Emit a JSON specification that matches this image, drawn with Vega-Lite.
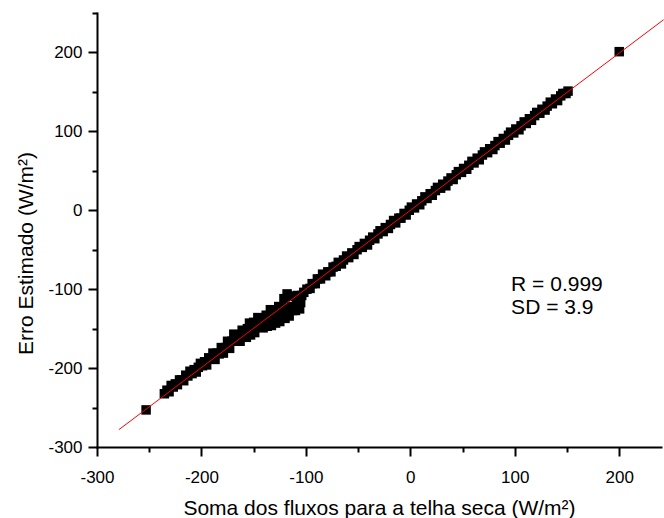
{
  "$schema": "https://vega.github.io/schema/vega-lite/v6.json",
  "width": 564,
  "height": 434,
  "autosize": {"type": "none"},
  "padding": {"left": 97, "top": 13, "right": 3, "bottom": 71},
  "background": "white",
  "config": {
    "view": {"stroke": null},
    "font": "Liberation Sans",
    "axis": {"grid": false, "labelFont": "Liberation Sans", "titleFont": "Liberation Sans"}
  },
  "datasets": {
    "pts": [
      {"x": -253, "y": -253}, {"x": 200, "y": 201},
      {"x": -235.5, "y": -232.5}, {"x": -233, "y": -228}, {"x": -231, "y": -230}, {"x": -229, "y": -222}, {"x": -227, "y": -224}, {"x": -225, "y": -220}, {"x": -223, "y": -221}, {"x": -221, "y": -215}, {"x": -219, "y": -215}, {"x": -217, "y": -216}, {"x": -215, "y": -209}, {"x": -213, "y": -210}, {"x": -211, "y": -204}, {"x": -209, "y": -207}, {"x": -207, "y": -202}, {"x": -205, "y": -205}, {"x": -203, "y": -199}, {"x": -201, "y": -194}, {"x": -199, "y": -197}, {"x": -197, "y": -192}, {"x": -195, "y": -196}, {"x": -193, "y": -187}, {"x": -191, "y": -188}, {"x": -189, "y": -181}, {"x": -187, "y": -189}, {"x": -185, "y": -181}, {"x": -183, "y": -182}, {"x": -181, "y": -174}, {"x": -179, "y": -181}, {"x": -177, "y": -174}, {"x": -175, "y": -166}, {"x": -173, "y": -175}, {"x": -171, "y": -166}, {"x": -169, "y": -157}, {"x": -167, "y": -166}, {"x": -165, "y": -158}, {"x": -163, "y": -166}, {"x": -161, "y": -152}, {"x": -159, "y": -157},
      {"x": -157, "y": -161}, {"x": -156, "y": -150}, {"x": -154, "y": -143}, {"x": -153, "y": -158}, {"x": -152, "y": -150}, {"x": -150, "y": -142}, {"x": -149, "y": -155}, {"x": -147, "y": -144}, {"x": -146, "y": -136}, {"x": -144, "y": -148}, {"x": -143, "y": -137}, {"x": -141, "y": -149}, {"x": -140, "y": -139},
      {"x": -138, "y": -133}, {"x": -137, "y": -147}, {"x": -136, "y": -139}, {"x": -134, "y": -126}, {"x": -133, "y": -146}, {"x": -132, "y": -138}, {"x": -130, "y": -128}, {"x": -129, "y": -143}, {"x": -128, "y": -136}, {"x": -126, "y": -122}, {"x": -125, "y": -141}, {"x": -124, "y": -134}, {"x": -122, "y": -124}, {"x": -121, "y": -112}, {"x": -120, "y": -137}, {"x": -119, "y": -131}, {"x": -118, "y": -106}, {"x": -117, "y": -122}, {"x": -116, "y": -134}, {"x": -115, "y": -109}, {"x": -113, "y": -127}, {"x": -112, "y": -109}, {"x": -110, "y": -127}, {"x": -109, "y": -117}, {"x": -108, "y": -108}, {"x": -106, "y": -125}, {"x": -105, "y": -117}, {"x": -104, "y": -108}, {"x": -102, "y": -104},
      {"x": -99, "y": -100}, {"x": -96, "y": -99}, {"x": -94, "y": -93}, {"x": -91, "y": -93}, {"x": -89, "y": -87}, {"x": -86, "y": -87}, {"x": -84, "y": -81}, {"x": -81, "y": -83}, {"x": -79, "y": -78}, {"x": -76, "y": -78}, {"x": -74, "y": -72}, {"x": -71, "y": -71}, {"x": -69, "y": -66}, {"x": -66, "y": -68}, {"x": -64, "y": -63}, {"x": -61, "y": -58}, {"x": -59, "y": -60}, {"x": -56, "y": -54}, {"x": -54, "y": -56}, {"x": -51, "y": -50}, {"x": -49, "y": -46}, {"x": -46, "y": -47}, {"x": -44, "y": -42}, {"x": -41, "y": -44}, {"x": -39, "y": -38}, {"x": -36, "y": -34}, {"x": -34, "y": -36}, {"x": -31, "y": -30}, {"x": -29, "y": -26}, {"x": -26, "y": -27}, {"x": -24, "y": -22}, {"x": -21, "y": -23}, {"x": -19, "y": -18}, {"x": -16, "y": -13}, {"x": -14, "y": -16}, {"x": -11, "y": -10}, {"x": -9, "y": -10}, {"x": -6, "y": -4}, {"x": -4, "y": -6}, {"x": -1, "y": 0}, {"x": 1, "y": 4}, {"x": 4, "y": 3}, {"x": 6, "y": 8}, {"x": 9, "y": 7}, {"x": 11, "y": 12}, {"x": 14, "y": 17}, {"x": 16, "y": 15}, {"x": 19, "y": 21}, {"x": 21, "y": 19}, {"x": 24, "y": 25}, {"x": 26, "y": 29}, {"x": 29, "y": 28}, {"x": 31, "y": 33}, {"x": 34, "y": 31}, {"x": 36, "y": 37}, {"x": 39, "y": 41}, {"x": 41, "y": 39}, {"x": 44, "y": 45}, {"x": 46, "y": 49}, {"x": 49, "y": 48}, {"x": 51, "y": 53}, {"x": 54, "y": 52}, {"x": 56, "y": 57}, {"x": 59, "y": 62}, {"x": 61, "y": 60}, {"x": 64, "y": 66}, {"x": 66, "y": 64}, {"x": 69, "y": 70}, {"x": 71, "y": 74}, {"x": 74, "y": 73}, {"x": 76, "y": 78}, {"x": 79, "y": 77}, {"x": 81, "y": 82}, {"x": 84, "y": 87}, {"x": 86, "y": 85}, {"x": 89, "y": 91}, {"x": 91, "y": 89}, {"x": 94, "y": 95}, {"x": 96, "y": 99}, {"x": 99, "y": 98}, {"x": 101, "y": 103}, {"x": 104, "y": 102}, {"x": 106, "y": 107}, {"x": 109, "y": 112}, {"x": 111, "y": 110}, {"x": 114, "y": 116}, {"x": 116, "y": 114}, {"x": 119, "y": 120}, {"x": 121, "y": 124}, {"x": 124, "y": 123}, {"x": 126, "y": 128}, {"x": 129, "y": 127}, {"x": 131, "y": 132}, {"x": 134, "y": 137}, {"x": 136, "y": 135}, {"x": 139, "y": 141}, {"x": 141, "y": 139}, {"x": 144, "y": 145}, {"x": 146, "y": 148}, {"x": 149, "y": 148}, {"x": 151, "y": 151}
    ],
    "fit": [{"x": -279, "y": -278}, {"x": 242.5, "y": 241.5}],
    "notes": [{"x": 96.5, "y": -102, "label": "R = 0.999"}, {"x": 96.5, "y": -131.8, "label": "SD = 3.9"}]
  },
  "layer": [
    {
      "data": {"name": "pts"},
      "mark": {"type": "point", "shape": "square", "filled": true, "size": 90, "color": "black", "opacity": 1},
      "encoding": {
        "x": {"field": "x", "type": "quantitative", "scale": {"domain": [-300, 240], "nice": false, "zero": false},
          "axis": {"orient": "bottom", "values": [-300, -200, -100, 0, 100, 200], "tickSize": 9, "tickWidth": 2, "domainWidth": 2, "domainCap": "square", "domainColor": "black", "tickColor": "black", "labelFontSize": 17, "labelColor": "black", "labelPadding": 13, "labelFlush": false, "labelOverlap": false, "labelExpr": "'' + datum.value", "title": "Soma dos fluxos para a telha seca (W/m²)", "titleFontSize": 21, "titleFontWeight": "normal", "titleColor": "black", "titleBaseline": "alphabetic", "titleY": 67}},
        "y": {"field": "y", "type": "quantitative", "scale": {"domain": [-300, 250], "nice": false, "zero": false},
          "axis": {"orient": "left", "values": [-300, -200, -100, 0, 100, 200], "tickSize": 9, "tickWidth": 2, "domainWidth": 2, "domainCap": "square", "domainColor": "black", "tickColor": "black", "labelFontSize": 17, "labelColor": "black", "labelPadding": 6, "labelFlush": false, "labelOverlap": false, "labelExpr": "'' + datum.value", "title": "Erro Estimado (W/m²)", "titleFontSize": 21, "titleFontWeight": "normal", "titleColor": "black", "titleBaseline": "alphabetic", "titleX": -65, "titleY": 240}}
      }
    },
    {
      "data": {"name": "fit"},
      "mark": {"type": "line", "color": "#ff0000", "strokeWidth": 1},
      "encoding": {
        "x": {"field": "x", "type": "quantitative",
          "axis": {"orient": "bottom", "values": [-250, -150, -50, 50, 150], "tickSize": 5, "tickWidth": 2, "tickColor": "black", "labels": false, "domain": false, "title": null}},
        "y": {"field": "y", "type": "quantitative",
          "axis": {"orient": "left", "values": [-250, -150, -50, 50, 150, 250], "tickSize": 5, "tickWidth": 2, "tickColor": "black", "labels": false, "domain": false, "title": null}}
      }
    },
    {
      "data": {"name": "notes"},
      "mark": {"type": "text", "align": "left", "baseline": "alphabetic", "fontSize": 21, "color": "black", "font": "Liberation Sans"},
      "encoding": {
        "x": {"field": "x", "type": "quantitative", "axis": null},
        "y": {"field": "y", "type": "quantitative", "axis": null},
        "text": {"field": "label"}
      }
    }
  ],
  "resolve": {"axis": {"x": "independent", "y": "independent"}}
}
